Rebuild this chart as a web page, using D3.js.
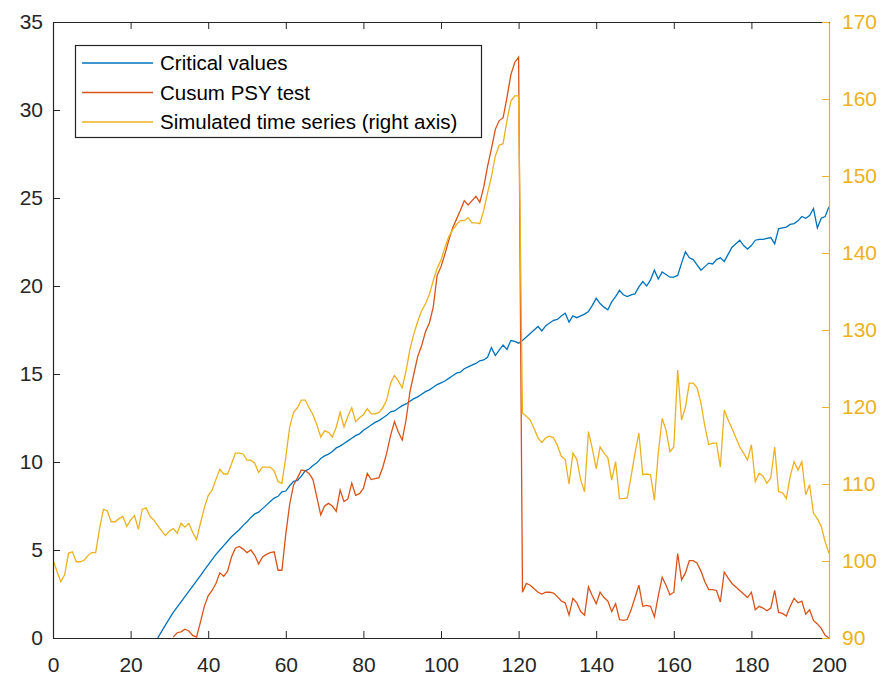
<!DOCTYPE html>
<html><head><meta charset="utf-8">
<script src="https://cdn.jsdelivr.net/npm/d3@7"></script>
<style>body{margin:0;background:#fff} svg{display:block}</style>
</head><body><svg id="c" width="884" height="677"></svg>
<script>
// ---------- data ----------
const xTicks = [0, 20, 40, 60, 80, 100, 120, 140, 160, 180, 200];
const leftTicks = [0, 5, 10, 15, 20, 25, 30, 35];
const rightTicks = [90, 100, 110, 120, 130, 140, 150, 160, 170];
const seriesNames = ["Critical values", "Cusum PSY test", "Simulated time series (right axis)"];
const seriesColors = ["#0072BD", "#D95319", "#EDB120"];

// Critical values (left axis), x = 0..200; null where not drawn
const critical = [
 null,null,null,null,null,null,null,null,null,null,
 null,null,null,null,null,null,null,null,null,null,
 null,null,null,null,null,null,null,0.0,0.38,0.75,
 1.1,1.45,1.75,2.05,2.35,2.65,2.95,3.25,3.55,3.85,
 4.15,4.45,4.75,5.0,5.25,5.5,5.75,5.95,6.15,6.4,
 6.6,6.85,7.05,7.15,7.35,7.55,7.75,7.95,8.05,8.3,
 8.35,8.65,8.9,8.95,9.2,9.5,9.6,9.8,9.95,10.2,
 10.35,10.45,10.6,10.8,10.9,11.05,11.2,11.35,11.5,11.6,
 11.8,11.95,12.1,12.25,12.35,12.5,12.65,12.85,12.9,13.05,
 13.2,13.3,13.45,13.6,13.7,13.85,14.0,14.1,14.25,14.4,
 14.5,14.6,14.75,14.9,15.05,15.1,15.3,15.4,15.5,15.6,
 15.75,15.8,15.95,16.5,16.05,16.35,16.65,16.4,16.9,16.85,
 16.75,16.9,17.1,17.3,17.5,17.7,17.45,17.75,17.9,18.05,
 18.1,18.3,18.45,17.95,18.3,18.2,18.3,18.4,18.55,18.9,
 19.3,19.0,18.8,18.65,19.1,19.4,19.75,19.5,19.4,19.5,
 19.55,19.95,20.25,20.0,20.35,20.9,20.4,20.8,20.65,20.5,
 20.5,20.6,21.3,21.95,21.6,21.5,21.2,20.9,21.1,21.3,
 21.25,21.5,21.6,21.4,21.8,22.2,22.4,22.6,22.3,22.1,
 22.3,22.6,22.65,22.65,22.7,22.75,22.4,23.25,23.3,23.35,
 23.5,23.55,23.7,23.95,23.85,24.0,24.4,23.3,23.85,23.95,
 24.5
];

// Cusum PSY test (left axis)
const cusum = [
 null,null,null,null,null,null,null,null,null,null,
 null,null,null,null,null,null,null,null,null,null,
 null,null,null,null,null,null,null,null,null,null,
 null,0.05,0.3,0.35,0.5,0.4,0.15,0.05,0.9,1.8,
 2.4,2.7,3.1,3.7,3.5,3.8,4.6,5.1,5.2,5.05,
 4.85,5.0,4.7,4.2,4.6,4.75,4.85,4.9,3.85,3.85,
 5.9,7.6,8.7,9.1,9.55,9.5,9.35,9.0,8.0,7.0,
 7.5,7.65,7.5,7.2,8.4,7.75,7.9,8.8,8.1,8.2,
 8.5,9.35,9.0,9.05,9.1,9.7,10.5,11.5,12.3,11.7,
 11.25,12.4,14.0,15.0,16.0,16.6,17.4,17.9,18.8,20.6,
 21.1,21.8,22.6,23.3,23.8,24.3,24.85,24.6,24.85,25.1,
 24.75,25.6,26.8,27.8,28.9,29.4,29.55,30.7,32.0,32.7,
 33.0,2.6,3.1,3.0,2.8,2.6,2.5,2.6,2.6,2.55,
 2.35,2.1,2.0,1.3,2.25,2.0,1.5,1.3,2.9,2.4,
 1.95,2.6,2.3,2.1,1.5,1.95,1.05,1.0,1.05,1.6,
 2.3,3.0,1.8,1.85,1.8,1.2,2.4,3.45,3.0,2.45,
 2.6,4.8,3.3,3.7,4.4,4.4,4.25,3.8,3.2,2.75,
 2.75,2.7,2.05,3.75,3.4,3.1,2.9,2.7,2.5,2.3,
 2.6,1.6,1.8,1.7,1.55,1.7,2.7,1.45,1.4,1.25,
 1.8,2.25,2.0,2.1,1.35,1.6,1.0,0.8,0.55,0.15,
 0.0
];

// Simulated time series (right axis)
const simulated = [
 100.1,98.7,97.3,98.2,101.0,101.2,99.9,99.9,100.1,100.7,
 101.1,101.1,104.2,106.7,106.5,105.1,105.1,105.5,105.8,104.5,
 105.3,105.9,104.1,106.7,106.9,105.8,105.3,104.6,103.9,103.3,
 103.9,104.2,103.6,104.9,104.4,104.9,103.7,102.8,104.9,106.9,
 108.5,109.2,110.6,111.9,111.3,111.3,112.6,114.0,114.0,113.9,
 113.1,113.1,112.7,111.5,112.2,112.2,112.2,111.7,110.3,110.1,
 113.5,117.4,119.3,119.9,120.9,120.9,119.9,119.0,117.7,116.1,
 116.9,116.7,116.1,117.4,119.3,117.4,118.8,119.9,118.1,118.6,
 119.0,119.8,119.1,119.1,119.3,119.9,120.9,123.1,124.1,123.4,
 122.5,124.7,127.5,129.5,131.1,132.5,133.4,134.6,136.4,138.0,
 139.1,140.7,142.1,143.0,143.7,144.2,144.2,144.6,143.9,143.9,
 143.8,145.5,147.8,149.9,152.6,154.0,154.2,157.2,159.7,160.4,
 160.4,119.2,118.8,118.3,117.2,116.0,115.4,116.0,116.2,116.0,
 115.0,113.6,113.2,110.0,114.0,113.2,110.5,109.0,116.8,114.6,
 112.0,114.8,114.0,113.4,110.5,112.9,108.1,108.1,108.2,111.0,
 114.0,116.6,111.2,111.3,111.2,107.9,114.0,118.5,117.0,114.2,
 114.8,124.8,118.3,120.0,123.1,123.1,122.5,120.5,117.5,115.1,
 115.3,115.3,112.2,119.6,118.3,117.2,116.0,114.8,114.0,113.1,
 115.1,110.3,111.4,111.0,110.1,110.8,114.8,109.0,108.9,108.1,
 111.0,112.9,111.8,112.9,108.6,109.9,106.2,105.5,104.5,102.5,
 101.0
];

// ---------- layout ----------
const svg = d3.select("#c");
const L = 53, R = 829, T = 22, B = 638;
const FONT = "'Liberation Sans', Arial, Helvetica, sans-serif";
const axisGold = "#EDB120";

const x = d3.scaleLinear().domain([0, 200]).range([L, R]);
const yL = d3.scaleLinear().domain([0, 35]).range([B, T]);
const yR = d3.scaleLinear().domain([90, 170]).range([B, T]);

svg.append("defs").append("clipPath").attr("id", "clip")
  .append("rect").attr("x", L).attr("y", T).attr("width", R - L).attr("height", B - T);

const plot = svg.append("g").attr("clip-path", "url(#clip)");
const mkLine = (ys) => d3.line()
  .defined(d => d != null)
  .x((d, i) => x(i))
  .y(d => ys(d));

plot.append("path").datum(critical).attr("fill", "none")
  .attr("stroke", seriesColors[0]).attr("stroke-width", 1.3).attr("d", mkLine(yL));
plot.append("path").datum(cusum).attr("fill", "none")
  .attr("stroke", seriesColors[1]).attr("stroke-width", 1.3).attr("d", mkLine(yL));
plot.append("path").datum(simulated).attr("fill", "none")
  .attr("stroke", seriesColors[2]).attr("stroke-width", 1.3).attr("d", mkLine(yR));

// ---------- axes ----------
function styleAxis(g, color) {
  g.selectAll("path.domain").attr("stroke", color).attr("stroke-width", 1.2);
  g.selectAll(".tick line").attr("stroke", color).attr("stroke-width", 1);
  g.selectAll(".tick text").attr("fill", color).attr("font-family", FONT).attr("font-size", 21);
}

const gx = svg.append("g").attr("transform", `translate(0,${B})`)
  .call(d3.axisBottom(x).tickValues(xTicks).tickSize(-7).tickSizeOuter(0).tickPadding(19).tickFormat(d3.format("d")));
styleAxis(gx, "#262626");

const gxTop = svg.append("g").attr("transform", `translate(0,${T})`)
  .call(d3.axisTop(x).tickValues(xTicks).tickSize(-7).tickSizeOuter(0).tickFormat(""));
styleAxis(gxTop, "#262626");

const gyL = svg.append("g").attr("transform", `translate(${L},0)`)
  .call(d3.axisLeft(yL).tickValues(leftTicks).tickSize(-7).tickSizeOuter(0).tickPadding(10).tickFormat(d3.format("d")));
styleAxis(gyL, "#262626");

const gyR = svg.append("g").attr("transform", `translate(${R},0)`)
  .call(d3.axisRight(yR).tickValues(rightTicks).tickSize(-7).tickSizeOuter(0).tickPadding(13).tickFormat(d3.format("d")));
styleAxis(gyR, axisGold);

// ---------- legend ----------
const lg = svg.append("g");
lg.append("rect").attr("x", 75.5).attr("y", 45.5).attr("width", 406).attr("height", 92)
  .attr("fill", "#fff").attr("stroke", "#262626").attr("stroke-width", 1.2);
const rowY = [63, 92.5, 122];
seriesNames.forEach((name, i) => {
  lg.append("line").attr("x1", 82).attr("x2", 153).attr("y1", rowY[i]).attr("y2", rowY[i])
    .attr("stroke", seriesColors[i]).attr("stroke-width", 1.3);
  lg.append("text").attr("x", 160).attr("y", rowY[i]).attr("dy", "0.35em")
    .attr("font-family", FONT).attr("font-size", 20.5).attr("fill", "#000").text(name);
});
</script>
</body></html>
